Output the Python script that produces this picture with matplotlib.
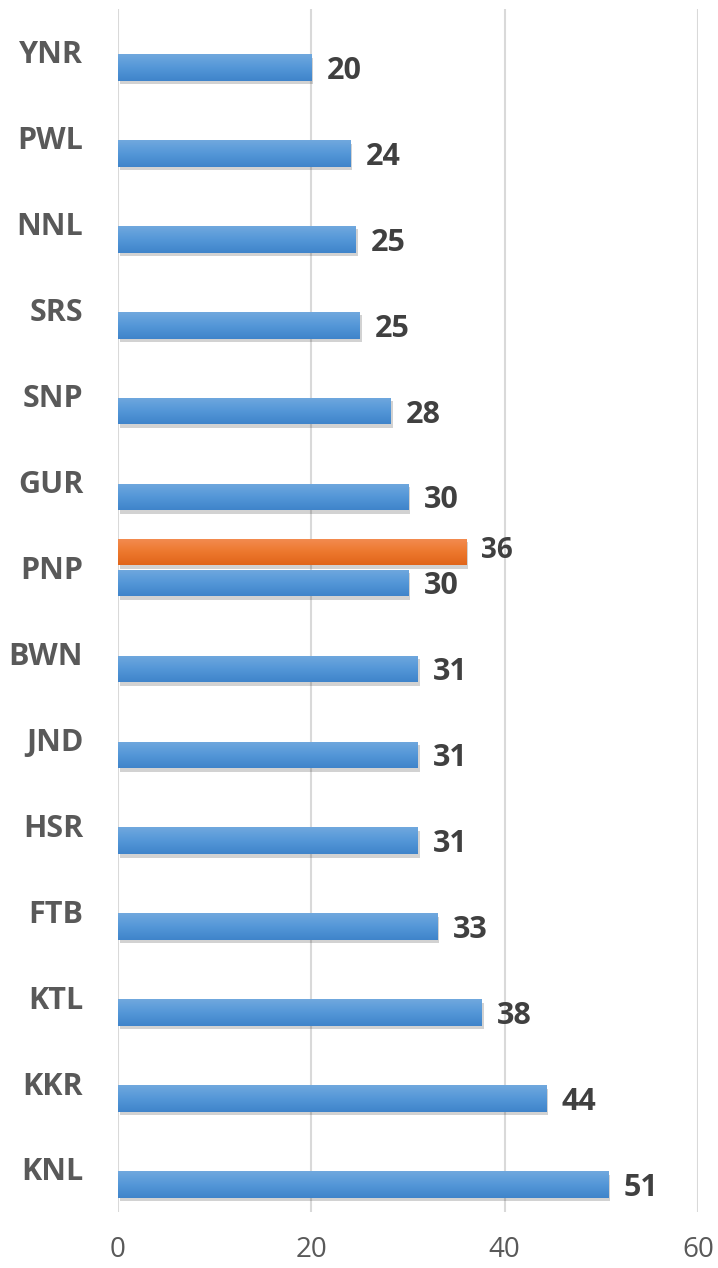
import numpy as np
import matplotlib.pyplot as plt
import matplotlib.patheffects as pe
from matplotlib.colors import LinearSegmentedColormap

# data, bottom to top
districts = ['KNL', 'KKR', 'KTL', 'FTB', 'HSR', 'JND', 'BWN',
             'PNP', 'GUR', 'SNP', 'SRS', 'NNL', 'PWL', 'YNR']
values = [50.7, 44.3, 37.6, 33, 31, 31, 31, 30, 30, 28.2, 25, 24.6, 24, 20]
highlight_cat = 'PNP'
highlight_val = 36

fig = plt.figure(figsize=(7.18, 12.68), dpi=100)
ax = fig.add_axes([0.1643, 0.0442, 0.8078, 0.9487])

y = np.arange(len(districts))
h = 0.31
off = 0.18

blue_cmap = LinearSegmentedColormap.from_list('b', ['#3f84ca', '#5497d8', '#70a8de'])
orange_cmap = LinearSegmentedColormap.from_list('o', ['#e0651a', '#ed782e', '#f38c52'])
shadow = [pe.SimplePatchShadow(offset=(1.5, -2.5), alpha=0.22, shadow_rgbFace='#333333'), pe.Normal()]

grad = np.linspace(0, 1, 64).reshape(-1, 1)

def gradient_bars(bars, cmap):
    for b in bars:
        b.set_path_effects(shadow)
        x0, y0 = b.get_x(), b.get_y()
        im = ax.imshow(grad, extent=[x0, x0 + b.get_width(), y0, y0 + b.get_height()],
                       origin='lower', aspect='auto', cmap=cmap, zorder=3)
        im.set_clip_path(b)

blue = ax.barh(y - off, values, height=h, color='#5497d8', linewidth=0, zorder=2)
gradient_bars(blue, blue_cmap)

hi = districts.index(highlight_cat)
orange = ax.barh([hi + off], [highlight_val], height=h, color='#ed782e', linewidth=0, zorder=2)
gradient_bars(orange, orange_cmap)

for yi, v in zip(y, values):
    ax.text(v + 1.6, yi - off - 0.04, f'{v:.0f}', va='center', ha='left',
            fontsize=22, fontweight='bold', color='#404040', family='Open Sans')
ax.text(highlight_val + 1.6, hi + off + 0.02, f'{highlight_val}', va='center', ha='left',
        fontsize=20, fontweight='bold', color='#404040', family='Open Sans')

ax.set_xlim(0, 60)
ax.set_ylim(-0.5, len(districts) - 0.5)
ax.set_xticks([0, 20, 40, 60])
ax.set_yticks(y)
ax.set_yticklabels(districts, fontsize=22, fontweight='bold', color='#595959', family='Open Sans')
ax.tick_params(axis='y', length=0, pad=25)
ax.tick_params(axis='x', length=0, pad=17, labelsize=20, labelcolor='#595959')
for lab in ax.get_xticklabels():
    lab.set_family('Open Sans')
for lab in ax.get_yticklabels():
    lab.set_verticalalignment('center_baseline')

ax.grid(axis='x', color='#d9d9d9', linewidth=1.5, zorder=0)
ax.set_axisbelow(True)
for s in ax.spines.values():
    s.set_visible(False)

fig.savefig('out.png', dpi=100)
